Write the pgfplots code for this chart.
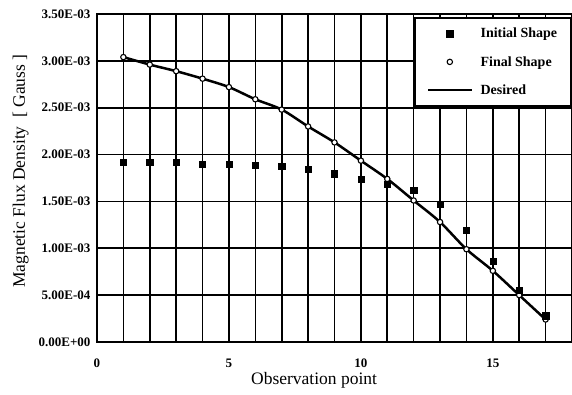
\documentclass[border=0pt]{standalone}
\usepackage{fontspec}
\setmainfont{Liberation Serif}
\usepackage{pgfplots}
\pgfplotsset{compat=1.18}
\begin{document}
\begin{tikzpicture}
\begin{axis}[
  scale only axis,
  width=475pt, height=328pt,
  xmin=0, xmax=18, ymin=0, ymax=0.0035,
  xtick={0,1,...,18},
  xticklabels={0,,,,,5,,,,,10,,,,,15,,,},
  ytick={0,0.0005,0.001,0.0015,0.002,0.0025,0.003,0.0035},
  yticklabels={0.00E+00,5.00E-04,1.00E-03,1.50E-03,2.00E-03,2.50E-03,3.00E-03,3.50E-03},
  scaled y ticks=false,
  grid=major,
  major grid style={line width=1.6pt, black},
  axis line style={line width=2.4pt},
  major tick length=0pt,
  xticklabel style={font=\bfseries\fontsize{13}{13}\selectfont, yshift=-13pt},
  yticklabel style={font=\bfseries\fontsize{13}{13}\selectfont, xshift=-3pt},
  xlabel={Observation point},
  ylabel={Magnetic Flux Density\ \ [ Gauss ]},
  xlabel style={font=\fontsize{17.5}{18}\selectfont, at={(axis description cs:0.457,-0.131)}, anchor=base},
  ylabel style={font=\fontsize{17.5}{18}\selectfont, at={(axis description cs:-0.1516,0.521)}, anchor=base},
  reverse legend,
  legend cell align=left,
  legend style={at={(1,0.99)}, anchor=north east, draw=black, line width=1.6pt, fill=white,
    font=\bfseries\fontsize{14}{14}\selectfont, inner xsep=12pt, inner ysep=8pt,
    /tikz/row sep=13pt, /tikz/column sep=6pt},
  legend image code/.code={\draw[mark repeat=2,mark phase=2,#1] plot coordinates {(0pt,0pt) (21.5pt,0pt) (43pt,0pt)};},
]
\addplot[black, line width=2.5pt, smooth, mark=none] coordinates {
(1,0.00304) (2,0.00296) (3,0.00289) (4,0.00281) (5,0.00272) (6,0.00259)
(7,0.00248) (8,0.00230) (9,0.00213) (10,0.001935) (11,0.00174) (12,0.00151)
(13,0.00128) (14,0.00099) (15,0.00076) (16,0.00050) (17,0.00024)};
\addlegendentry{Desired}
\addplot[only marks, mark=*, mark size=2.7pt, mark options={fill=white, draw=black, line width=1.1pt}] coordinates {
(1,0.00304) (2,0.00296) (3,0.00289) (4,0.00281) (5,0.00272) (6,0.00259)
(7,0.00248) (8,0.00230) (9,0.00213) (10,0.001935) (11,0.00174) (12,0.00151)
(13,0.00128) (14,0.00099) (15,0.00076) (16,0.00050) (17,0.00024)};
\addlegendentry{Final Shape}
\addplot[only marks, mark=square*, mark size=3.1pt, mark options={fill=black, draw=black}] coordinates {
(1,0.00192) (2,0.00192) (3,0.00192) (4,0.00190) (5,0.00190) (6,0.00189)
(7,0.001875) (8,0.001845) (9,0.001795) (10,0.00174) (11,0.00168) (12,0.00162)
(13,0.00147) (14,0.00119) (15,0.000865) (16,0.000555) (17,0.00028)};
\addlegendentry{Initial Shape}
\end{axis}
\pgfresetboundingbox
\path[use as bounding box] (-97pt,-53pt) rectangle (475pt,342pt);
\end{tikzpicture}
\end{document}
